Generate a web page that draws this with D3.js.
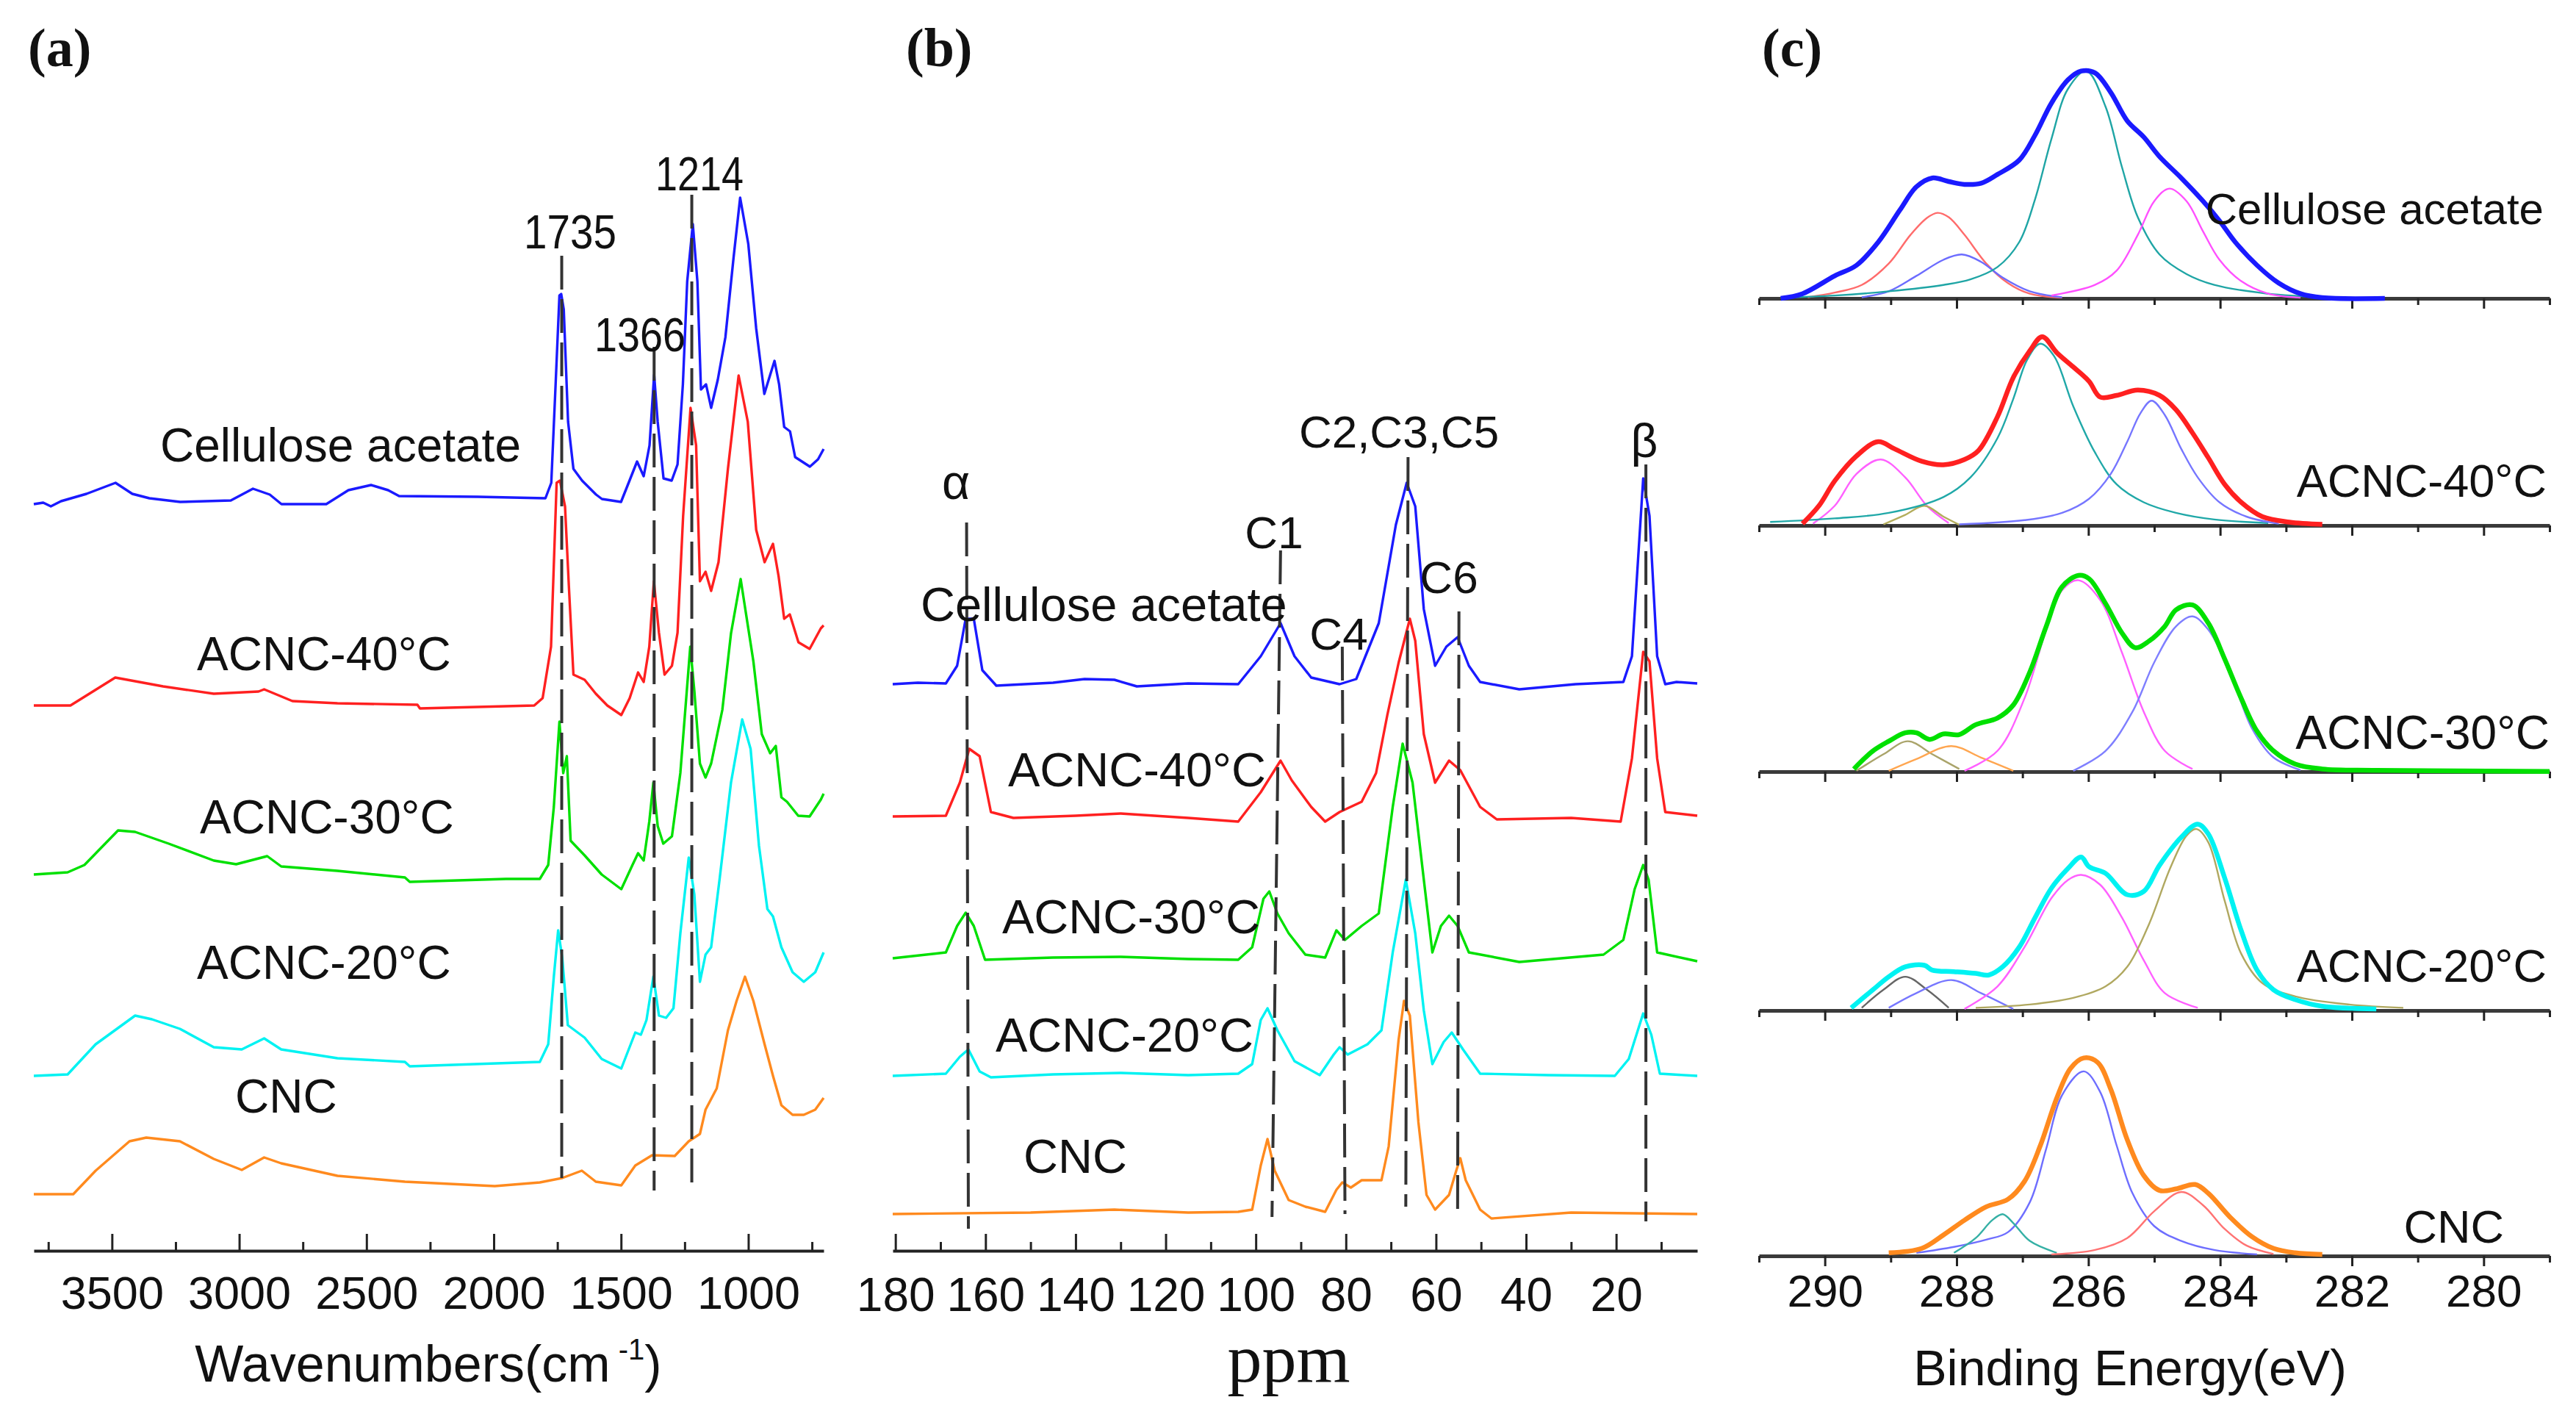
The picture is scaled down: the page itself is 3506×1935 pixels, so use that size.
<!DOCTYPE html>
<html><head><meta charset="utf-8">
<script src="https://cdn.jsdelivr.net/npm/d3@7/dist/d3.min.js"></script>
<style>body{margin:0;background:#fff}</style>
</head><body>
<svg id="chart" width="3506" height="1935" xmlns="http://www.w3.org/2000/svg"></svg>
<script>
// ---------------- DATA ----------------
const seriesNames = ["Cellulose acetate", "ACNC-40°C", "ACNC-30°C", "ACNC-20°C", "CNC"];

// (a) FTIR: [wavenumber cm-1, stacked intensity]
const ftirCA = [[3807,101.6],[3770,101.8],[3740,101.3],[3700,102.0],[3600,103.0],[3486,104.5],[3420,103.0],[3353,102.4],[3232,101.9],[3033,102.1],[2946,103.7],[2880,102.9],[2834,101.6],[2658,101.6],[2571,103.5],[2482,104.2],[2415,103.5],[2372,102.7],[2063,102.6],[1797,102.4],[1774,104.5],[1757,117.9],[1742,130.0],[1735,130.2],[1725,128.1],[1708,112.8],[1687,106.4],[1653,104.8],[1598,102.9],[1575,102.3],[1500,101.9],[1477,103.9],[1437,107.4],[1411,105.4],[1388,109.6],[1370,119.2],[1356,112.8],[1333,105.1],[1301,104.8],[1278,107.0],[1257,117.9],[1240,131.9],[1218,139.7],[1200,131.9],[1186,117.2],[1166,117.9],[1146,114.7],[1120,118.5],[1090,124.3],[1058,135.1],[1032,143.3],[1000,137.0],[969,125.5],[937,116.6],[914,119.2],[897,121.1],[879,117.9],[859,112.1],[836,111.5],[816,108.0],[758,106.7],[726,107.7],[704,109.1]];
const ftirA40 = [[3807,74.2],[3663,74.2],[3487,78.0],[3299,76.8],[3100,75.8],[2924,76.1],[2902,76.4],[2791,74.8],[2614,74.5],[2300,74.3],[2290,73.8],[1841,74.2],[1808,75.2],[1775,82.2],[1753,104.5],[1740,104.8],[1720,101.3],[1705,90.5],[1687,78.4],[1643,77.7],[1599,75.8],[1554,74.2],[1499,72.9],[1466,75.2],[1433,78.7],[1411,77.4],[1389,82.2],[1371,91.1],[1351,84.1],[1329,78.4],[1300,79.6],[1278,84.1],[1256,100.0],[1227,114.7],[1205,109.6],[1190,91.1],[1168,92.4],[1146,89.8],[1117,93.7],[1080,106.4],[1038,119.1],[1002,112.8],[969,98.1],[936,93.7],[903,96.2],[881,91.8],[859,86.0],[837,86.6],[803,82.8],[759,81.9],[715,84.7],[704,85.1]];
const ftirA30 = [[3807,51.2],[3674,51.5],[3608,52.5],[3476,57.2],[3409,57.0],[3277,55.4],[3100,53.1],[3012,52.6],[2890,53.7],[2835,52.3],[2614,51.7],[2349,50.8],[2330,50.2],[1952,50.6],[1819,50.6],[1786,52.5],[1764,60.4],[1742,72.0],[1727,65.0],[1713,67.3],[1698,55.8],[1643,53.8],[1576,51.2],[1499,49.2],[1455,52.5],[1433,54.1],[1411,53.1],[1389,58.4],[1373,63.7],[1356,57.8],[1334,55.4],[1300,56.4],[1267,65.0],[1228,82.2],[1212,76.2],[1190,66.3],[1168,64.4],[1146,66.3],[1102,73.6],[1068,84.0],[1030,91.4],[980,80.2],[947,70.3],[914,67.7],[892,68.7],[870,61.7],[848,61.1],[804,59.2],[759,59.1],[715,61.4],[704,62.2]];
const ftirA20 = [[3807,23.8],[3674,24.0],[3564,28.1],[3409,32.0],[3343,31.5],[3233,30.2],[3100,27.7],[2990,27.4],[2902,28.9],[2835,27.4],[2614,26.2],[2349,25.7],[2330,25.1],[1819,25.7],[1786,28.1],[1764,37.3],[1747,43.6],[1731,39.9],[1709,30.7],[1643,29.0],[1576,26.1],[1499,24.8],[1444,29.7],[1422,29.4],[1400,31.4],[1373,37.3],[1351,32.0],[1323,31.7],[1294,33.0],[1267,43.2],[1234,53.5],[1212,48.5],[1190,36.6],[1168,40.3],[1146,41.3],[1113,50.5],[1068,63.7],[1024,72.3],[991,68.3],[958,55.1],[925,46.5],[903,45.5],[870,41.3],[826,37.9],[782,36.6],[737,37.9],[704,40.6]];
const ftirCNC = [[3807,7.7],[3652,7.7],[3564,10.9],[3431,14.9],[3365,15.4],[3233,14.9],[3100,12.5],[2990,11.0],[2902,12.7],[2835,11.9],[2614,10.2],[2349,9.4],[1996,8.8],[1819,9.3],[1731,9.9],[1654,10.9],[1599,9.4],[1499,8.9],[1444,11.6],[1378,13.0],[1289,12.9],[1234,14.9],[1190,15.9],[1168,19.2],[1124,22.1],[1080,30.0],[1046,34.0],[1013,37.3],[980,34.0],[936,28.1],[903,23.8],[870,19.8],[826,18.5],[782,18.5],[737,19.2],[704,20.8]];
const ftirTicks = [3500, 3000, 2500, 2000, 1500, 1000];
const ftirMinorTicks = [3750, 3250, 2750, 2250, 1750, 1250, 750];
const ftirMarkers = [
  {label: "1735", w: 1733, top: 135.4, bottom: 9.9},
  {label: "1366", w: 1370, top: 123.0, bottom: 8.2},
  {label: "1214", w: 1222, top: 143.7, bottom: 9.1}
];

// (b) 13C NMR: [ppm, stacked intensity]
const nmrCA = [[180.6,77.1],[175,77.3],[168.8,77.2],[166.3,79.6],[164.4,86.0],[162.6,86.0],[160.7,79.0],[157.6,76.9],[145,77.3],[138,77.8],[131.4,77.7],[126.4,76.8],[115,77.2],[103.9,77.1],[98.9,80.9],[94.5,85.4],[91.4,80.9],[87.7,78.0],[81.4,77.1],[77.7,77.8],[72.7,85.4],[68.9,98.8],[66.5,104.5],[64.6,101.3],[62.7,87.3],[60.2,79.6],[57.7,82.2],[55.2,83.5],[52.7,79.6],[50.2,77.4],[41.5,76.4],[29.0,77.1],[18.4,77.4],[16.5,80.9],[14.0,105.1],[12.6,100.0],[10.9,80.9],[9.1,77.1],[6.6,77.4],[2,77.2]];
const nmrA40 = [[180.6,59.1],[168.8,59.2],[165.7,63.7],[163.6,68.3],[161.3,67.3],[158.8,59.7],[153.8,58.9],[140,59.2],[130,59.5],[115,58.9],[103.9,58.4],[98.9,62.4],[94.5,66.7],[92.0,64.0],[87.7,60.4],[84.6,58.4],[81.4,59.7],[76.5,61.1],[73.3,65.0],[70.8,72.9],[68.3,80.0],[65.8,86.0],[64.6,83.0],[62.7,70.3],[60.2,63.7],[57.1,66.7],[54.6,65.4],[50.2,60.4],[46.5,58.7],[30,58.9],[19.0,58.4],[16.5,67.0],[14.0,81.5],[12.6,80.2],[10.9,67.0],[9.1,59.7],[2,59.2]];
const nmrA30 = [[180.6,39.8],[168.8,40.6],[166.3,44.2],[164.4,46.0],[162.6,44.2],[160.1,39.6],[145,39.9],[130,40.0],[115,39.7],[103.9,39.6],[100.8,41.3],[98.3,47.9],[97.0,48.9],[95.2,45.9],[92.7,43.2],[89.0,40.3],[84.6,39.9],[82.1,43.6],[80.2,42.3],[76.5,44.2],[72.7,45.9],[69.6,60.4],[67.4,69.0],[65.2,63.7],[62.7,50.5],[60.8,40.6],[58.9,44.2],[57.1,45.6],[55.2,44.2],[52.7,40.6],[41.5,39.3],[22.8,40.3],[18.4,42.3],[15.9,49.2],[14.0,52.5],[12.8,50.5],[10.9,40.6],[2,39.4]];
const nmrA20 = [[180.6,23.8],[168.8,24.1],[165.7,26.4],[163.8,27.4],[161.3,24.4],[158.8,23.6],[145,24.0],[130,24.2],[115,23.9],[103.9,24.1],[100.8,25.4],[98.9,31.4],[97.4,33.0],[95.2,30.0],[91.4,25.8],[85.8,23.9],[82.7,26.7],[81.4,27.7],[79.6,26.7],[75.2,28.1],[72.1,30.0],[69.6,40.6],[66.7,50.5],[64.6,43.2],[62.7,32.7],[60.8,25.4],[58.3,28.4],[56.5,29.7],[54.0,27.4],[50.2,24.1],[35,23.9],[20.3,23.8],[17.2,26.1],[14.0,32.3],[12.2,29.4],[10.3,24.1],[2,23.8]];
const nmrCNC = [[180.6,5.0],[150,5.2],[131.4,5.6],[115,5.2],[103.9,5.3],[100.8,5.6],[98.9,11.6],[97.4,15.2],[95.8,10.9],[92.7,6.9],[89.0,6.0],[84.6,5.3],[82.1,8.3],[80.8,9.3],[78.9,8.6],[76.5,9.6],[72.1,9.6],[70.5,14.2],[68.3,28.7],[67.1,34.0],[65.8,32.0],[63.9,17.5],[62.1,7.6],[60.2,5.6],[57.1,7.6],[55.5,10.9],[54.6,12.6],[53.4,9.6],[50.2,5.6],[47.7,4.4],[30,5.2],[2,5.0]];
const nmrTicks = [180, 160, 140, 120, 100, 80, 60, 40, 20];
const nmrMinorTicks = [170, 150, 130, 110, 90, 70, 50, 30, 10];
const nmrMarkers = [
  {label: "α", top: 164.2, bottom: 163.8, uTop: 99.1, uBot: 3.0},
  {label: "C1", top: 94.5, bottom: 96.4, uTop: 95.3, uBot: 4.6},
  {label: "C4", top: 80.8, bottom: 80.2, uTop: 82.2, uBot: 5.0},
  {label: "C2,C3,C5", top: 66.2, bottom: 66.7, uTop: 108.0, uBot: 6.0},
  {label: "C6", top: 54.9, bottom: 55.2, uTop: 87.0, uBot: 4.5},
  {label: "β", top: 13.4, bottom: 13.4, uTop: 107.0, uBot: 4.0}
];

// (c) XPS C1s: [binding energy eV, intensity] envelopes and fitted components
const xpsCA = [[290.67,0],[290.34,2.1],[289.85,10.2],[289.52,15.0],[289.19,25.5],[288.86,40.1],[288.61,50.6],[288.37,54.6],[288.12,53.0],[287.88,51.7],[287.63,52.2],[287.38,56.2],[287.05,62.7],[286.81,74.0],[286.56,88.6],[286.31,99.1],[286.11,103.1],[285.90,102.3],[285.66,93.4],[285.41,80.5],[285.16,73.2],[284.92,64.3],[284.59,54.6],[284.26,44.1],[284.01,35.2],[283.77,25.5],[283.44,15.0],[283.11,6.9],[282.78,2.1],[282.45,0.3],[281.5,0]];
const xpsCA_red = [[290.26,0.5],[289.85,2.6],[289.44,6.1],[289.03,15.8],[288.70,28.8],[288.45,36.5],[288.29,38.8],[288.12,36.8],[287.88,28.8],[287.55,15.8],[287.22,6.9],[286.89,2.1],[286.40,0.3]];
const xpsCA_blue = [[289.44,0.5],[289.03,3.2],[288.61,10.2],[288.20,17.5],[287.92,19.9],[287.63,16.6],[287.30,9.4],[286.89,3.2],[286.40,0.5]];
const xpsCA_teal = [[290.67,0.3],[289.85,1.3],[289.03,3.2],[288.20,6.1],[287.79,8.6],[287.38,14.2],[287.05,25.5],[286.81,44.9],[286.56,72.4],[286.31,95.0],[286.03,103.1],[285.74,87.0],[285.49,59.5],[285.25,36.8],[284.92,19.9],[284.51,11.0],[284.09,6.1],[283.27,2.1],[282.45,0.6]];
const xpsCA_magenta = [[286.56,1.3],[285.90,6.1],[285.57,12.6],[285.25,28.8],[285.00,44.1],[284.77,49.8],[284.51,44.1],[284.26,30.4],[284.01,17.5],[283.68,7.8],[283.27,2.1],[282.78,0.3]];

const xpsA40 = [[290.34,0.8],[290.09,8.9],[289.85,20.2],[289.52,31.5],[289.19,38.0],[288.94,34.7],[288.53,29.1],[288.20,27.5],[287.88,29.9],[287.67,33.9],[287.38,49.3],[287.14,67.1],[286.89,79.2],[286.70,85.6],[286.48,78.4],[286.23,71.9],[285.99,65.4],[285.82,58.2],[285.57,59.0],[285.25,61.4],[284.92,59.0],[284.67,52.5],[284.42,42.0],[284.18,30.7],[283.93,18.6],[283.68,10.5],[283.36,4.0],[282.95,1.5],[282.45,0.5]];
const xpsA40_magenta = [[290.18,0.8],[289.85,8.9],[289.52,23.4],[289.15,29.9],[288.78,21.8],[288.45,8.9],[288.12,1.1]];
const xpsA40_olive = [[289.11,0.5],[288.78,4.8],[288.49,8.9],[288.20,4.0],[287.96,0.3]];
const xpsA40_teal = [[290.83,1.6],[289.85,3.2],[289.03,5.7],[288.20,12.9],[287.79,21.8],[287.38,39.6],[287.14,57.4],[286.93,75.1],[286.73,82.4],[286.52,76.8],[286.23,54.1],[285.90,33.1],[285.57,18.6],[285.16,10.5],[284.67,5.7],[284.09,2.7],[283.27,1.1]];
const xpsA40_blue = [[287.96,0.5],[286.97,2.4],[286.40,5.7],[285.99,12.1],[285.66,23.4],[285.41,38.0],[285.21,50.9],[285.04,56.6],[284.84,50.1],[284.59,34.7],[284.34,21.8],[284.01,10.5],[283.60,4.0],[283.11,0.8]];

const xpsA30 = [[289.56,1.2],[289.27,9.4],[289.03,13.8],[288.78,17.6],[288.61,17.6],[288.41,14.6],[288.20,17.1],[287.96,16.8],[287.71,21.3],[287.38,24.3],[287.14,30.2],[286.89,45.1],[286.64,65.9],[286.40,83.8],[286.15,89.0],[285.99,87.5],[285.74,76.3],[285.49,62.9],[285.29,56.2],[285.08,59.2],[284.84,65.9],[284.67,73.4],[284.42,75.6],[284.18,67.4],[283.93,51.0],[283.68,33.2],[283.44,18.3],[283.19,9.4],[282.86,3.4],[282.45,1.2],[281.63,0.6],[279.0,0.1]];
const xpsA30_olive = [[289.52,0.4],[289.11,7.9],[288.74,13.8],[288.37,7.9],[287.96,1.2]];
const xpsA30_orange = [[289.03,0.4],[288.61,5.7],[288.08,11.6],[287.63,6.4],[287.14,0.4]];
const xpsA30_magenta = [[287.88,0.4],[287.38,9.4],[286.97,33.2],[286.64,64.4],[286.40,82.3],[286.15,86.8],[285.82,77.8],[285.49,54.0],[285.16,27.2],[284.84,9.4],[284.42,1.2]];
const xpsA30_blue = [[286.23,0.4],[285.74,9.4],[285.33,27.2],[285.00,49.6],[284.67,65.9],[284.42,70.4],[284.18,64.4],[283.85,45.1],[283.52,19.8],[283.19,6.4],[282.78,0.7]];

const xpsA20 = [[289.60,1.2],[289.27,9.4],[289.03,15.3],[288.78,19.8],[288.49,20.5],[288.37,18.3],[288.04,17.6],[287.71,16.8],[287.51,16.1],[287.30,19.8],[287.05,28.7],[286.81,42.1],[286.56,55.5],[286.31,64.4],[286.11,69.6],[285.99,65.2],[285.74,62.2],[285.41,52.5],[285.16,54.0],[284.92,65.9],[284.59,78.6],[284.34,84.5],[284.18,80.1],[283.93,60.0],[283.68,36.2],[283.44,18.3],[283.19,9.4],[282.86,4.9],[282.45,1.9],[281.63,0.7]];
const xpsA20_grey = [[289.44,1.2],[289.11,9.4],[288.78,15.3],[288.45,9.4],[288.12,1.2]];
const xpsA20_blue = [[289.03,1.2],[288.61,7.9],[288.08,13.8],[287.63,7.9],[287.14,0.7]];
const xpsA20_magenta = [[287.88,0.7],[287.38,10.9],[286.97,28.7],[286.56,51.0],[286.31,59.2],[286.11,61.5],[285.82,57.0],[285.49,42.1],[285.16,22.8],[284.84,7.9],[284.34,1.2]];
const xpsA20_olive = [[287.71,1.2],[286.89,2.7],[286.23,5.7],[285.74,10.9],[285.41,19.8],[285.08,39.1],[284.76,64.4],[284.51,79.3],[284.36,82.3],[284.18,76.3],[283.93,49.6],[283.68,25.7],[283.36,12.4],[282.86,6.4],[282.04,2.7],[281.22,1.2]];

const xpsCNC = [[289.03,1.4],[288.53,3.4],[288.20,9.5],[287.88,16.2],[287.55,22.3],[287.22,25.7],[286.97,33.8],[286.73,50.0],[286.48,71.6],[286.27,85.1],[286.07,89.8],[285.86,87.8],[285.66,75.6],[285.41,52.7],[285.16,36.5],[284.92,29.7],[284.67,30.4],[284.38,32.4],[284.18,28.4],[283.85,17.6],[283.52,8.8],[283.19,3.4],[282.86,1.4],[282.45,0.7]];
const xpsCNC_blue = [[288.61,1.4],[288.04,4.1],[287.55,7.4],[287.22,10.8],[286.89,24.3],[286.64,48.6],[286.40,72.9],[286.07,83.7],[285.82,74.3],[285.57,50.0],[285.33,28.4],[285.00,13.5],[284.59,6.8],[284.09,2.7],[283.44,0.7]];
const xpsCNC_teal = [[288.04,1.4],[287.71,8.1],[287.46,16.2],[287.30,18.9],[287.14,14.9],[286.89,6.8],[286.48,1.4]];
const xpsCNC_red = [[286.56,0.7],[285.90,2.7],[285.41,8.1],[285.00,20.3],[284.59,29.0],[284.26,23.0],[283.93,12.2],[283.60,4.7],[283.19,0.9]];

const xpsTicks = [290, 288, 286, 284, 282, 280];
const xpsMinorTicks = [291, 289, 287, 285, 283, 281, 279];

// ---------------- DRAWING ----------------
const W = 3506, H = 1935;
const SANS = "'Liberation Sans', Arial, Helvetica, sans-serif";
const SERIF = "'Liberation Serif', 'Times New Roman', serif";
const svg = d3.select("#chart");
svg.append("rect").attr("width", W).attr("height", H).attr("fill", "#fff");

const colors = ["#1a1aff", "#ff2020", "#00e000", "#00f2f2", "#ff8a1e"];

function styleAxis(g, fontSize) {
  g.attr("font-family", SANS).attr("font-size", fontSize);
  g.selectAll(".domain").attr("stroke", "#222").attr("stroke-width", 4);
  g.selectAll(".tick line").attr("stroke", "#222").attr("stroke-width", 3);
  g.selectAll(".tick text").attr("fill", "#111");
}

function addText(x, y, str, opts = {}) {
  const t = svg.append("text").attr("x", x).attr("y", y)
    .attr("font-family", opts.family || SANS)
    .attr("font-size", opts.size || 64)
    .attr("font-weight", opts.weight || "normal")
    .attr("text-anchor", opts.anchor || "start")
    .attr("fill", opts.fill || "#111")
    .text(str);
  if (opts.len) t.attr("textLength", opts.len).attr("lengthAdjust", "spacingAndGlyphs");
  return t;
}

// ===== Panel (a) =====
const xA = d3.scaleLinear().domain([3807, 704]).range([46, 1121]);
const yA = d3.scaleLinear().domain([0, 150]).range([1702, 202]);
const lineA = d3.line().x(d => xA(d[0])).y(d => yA(d[1]));
const ftirAll = [ftirCA, ftirA40, ftirA30, ftirA20, ftirCNC];
const gA = svg.append("g");
ftirAll.slice().reverse().forEach((s, i) => {
  gA.append("path").attr("d", lineA(s)).attr("fill", "none")
    .attr("stroke", colors[4 - i]).attr("stroke-width", 3.4).attr("stroke-linejoin", "round");
});
ftirMarkers.forEach(m => {
  gA.append("line").attr("x1", xA(m.w)).attr("x2", xA(m.w))
    .attr("y1", yA(m.top)).attr("y2", yA(m.bottom))
    .attr("stroke", "#333").attr("stroke-width", 4).attr("stroke-dasharray", "46,13");
});
const axA = svg.append("g").attr("transform", "translate(0,1702)")
  .call(d3.axisBottom(xA).tickValues(ftirTicks).tickSize(-23).tickSizeOuter(0).tickPadding(34).tickFormat(d3.format("d")));
styleAxis(axA, 63);
const axAm = svg.append("g").attr("transform", "translate(0,1702)")
  .call(d3.axisBottom(xA).tickValues(ftirMinorTicks).tickSize(-12).tickSizeOuter(0).tickFormat(""));
styleAxis(axAm, 63); axAm.select(".domain").remove();

addText(218, 628, seriesNames[0], {size: 64});
addText(268, 912, seriesNames[1], {size: 64});
addText(272, 1134, seriesNames[2], {size: 64});
addText(268, 1332, seriesNames[3], {size: 64});
addText(320, 1514, seriesNames[4], {size: 64});
addText(776, 338, ftirMarkers[0].label, {size: 64, anchor: "middle", len: 126});
addText(871, 478, ftirMarkers[1].label, {size: 64, anchor: "middle", len: 124});
addText(952, 259, ftirMarkers[2].label, {size: 64, anchor: "middle", len: 120});
const ttlA = svg.append("text").attr("x", 583).attr("y", 1880).attr("text-anchor", "middle")
  .attr("font-family", SANS).attr("font-size", 70).attr("fill", "#111");
ttlA.append("tspan").text("Wavenumbers(cm");
ttlA.append("tspan").attr("font-size", 40).attr("dy", -30).text(" -1");
ttlA.append("tspan").attr("dy", 30).text(")");
addText(38, 90, "(a)", {family: SERIF, size: 74, weight: "bold"});

// ===== Panel (b) =====
const xB = d3.scaleLinear().domain([180.6, 2]).range([1215, 2310]);
const yB = d3.scaleLinear().domain([0, 150]).range([1702, 202]);
const lineB = d3.line().x(d => xB(d[0])).y(d => yB(d[1]));
const nmrAll = [nmrCA, nmrA40, nmrA30, nmrA20, nmrCNC];
const gB = svg.append("g");
nmrAll.slice().reverse().forEach((s, i) => {
  gB.append("path").attr("d", lineB(s)).attr("fill", "none")
    .attr("stroke", colors[4 - i]).attr("stroke-width", 3.4).attr("stroke-linejoin", "round");
});
nmrMarkers.forEach(m => {
  gB.append("line").attr("x1", xB(m.top)).attr("x2", xB(m.bottom))
    .attr("y1", yB(m.uTop)).attr("y2", yB(m.uBot))
    .attr("stroke", "#333").attr("stroke-width", 4).attr("stroke-dasharray", "46,13");
});
const axB = svg.append("g").attr("transform", "translate(0,1702)")
  .call(d3.axisBottom(xB).tickValues(nmrTicks).tickSize(-23).tickSizeOuter(0).tickPadding(37).tickFormat(d3.format("d")));
styleAxis(axB, 64);
const axBm = svg.append("g").attr("transform", "translate(0,1702)")
  .call(d3.axisBottom(xB).tickValues(nmrMinorTicks).tickSize(-12).tickSizeOuter(0).tickFormat(""));
styleAxis(axBm, 64); axBm.select(".domain").remove();

addText(1253, 845, seriesNames[0], {size: 65});
addText(1372, 1070, seriesNames[1], {size: 65});
addText(1364, 1270, seriesNames[2], {size: 65});
addText(1355, 1431, seriesNames[3], {size: 65});
addText(1393, 1596, seriesNames[4], {size: 65});
addText(1301, 679, nmrMarkers[0].label, {size: 66, anchor: "middle"});
addText(1734, 746, nmrMarkers[1].label, {size: 62, anchor: "middle"});
addText(1822, 884, nmrMarkers[2].label, {size: 62, anchor: "middle"});
addText(1904, 609, nmrMarkers[3].label, {size: 62, anchor: "middle"});
addText(1972, 807, nmrMarkers[4].label, {size: 62, anchor: "middle"});
addText(2238, 622, nmrMarkers[5].label, {size: 64, anchor: "middle"});
addText(1754, 1880, "ppm", {family: SERIF, size: 94, anchor: "middle"});
addText(1233, 90, "(b)", {family: SERIF, size: 74, weight: "bold"});

// ===== Panel (c) =====
const xC = d3.scaleLinear().domain([291, 279]).range([2394, 3470]);
const xpsBaselines = [406, 715, 1050, 1375, 1709];
const xpsEnvelopes = [xpsCA, xpsA40, xpsA30, xpsA20, xpsCNC];
const xpsComponents = [
  [[xpsCA_red, "#ff6b6b"], [xpsCA_blue, "#6c6cff"], [xpsCA_teal, "#1fa5a5"], [xpsCA_magenta, "#ff50ff"]],
  [[xpsA40_magenta, "#ff60ff"], [xpsA40_olive, "#b3ad5c"], [xpsA40_teal, "#20a8a8"], [xpsA40_blue, "#7676ff"]],
  [[xpsA30_olive, "#aaa46a"], [xpsA30_orange, "#ffa650"], [xpsA30_magenta, "#ff60ff"], [xpsA30_blue, "#7f7fff"]],
  [[xpsA20_grey, "#666666"], [xpsA20_blue, "#7777ff"], [xpsA20_magenta, "#ff60ff"], [xpsA20_olive, "#b0a860"]],
  [[xpsCNC_blue, "#6e6eff"], [xpsCNC_teal, "#35b0a5"], [xpsCNC_red, "#ff7373"]]
];
// [x end, baseline, font size]
const xpsLabelPos = [[3462, 305, 60], [3466, 676, 63], [3470, 1019, 64], [3466, 1336, 63], [3408, 1691, 63]];

xpsBaselines.forEach((base, i) => {
  const yC = d3.scaleLinear().domain([0, 100]).range([base, base - 300]);
  const lineC = d3.line().x(d => xC(d[0])).y(d => yC(d[1])).curve(d3.curveCatmullRom.alpha(0.5));
  const isBottom = i === xpsBaselines.length - 1;
  const ax = svg.append("g").attr("transform", `translate(0,${base})`)
    .call(d3.axisBottom(xC).tickValues(xpsTicks).tickSize(14).tickSizeOuter(0).tickPadding(11)
      .tickFormat(isBottom ? d3.format("d") : ""));
  styleAxis(ax, 62);
  ax.select(".domain").attr("stroke", "#3a3a3a").attr("stroke-width", 5);
  const axm = svg.append("g").attr("transform", `translate(0,${base})`)
    .call(d3.axisBottom(xC).tickValues(xpsMinorTicks).tickSize(9).tickSizeOuter(0).tickFormat(""));
  styleAxis(axm, 62); axm.select(".domain").remove();
  const g = svg.append("g");
  xpsComponents[i].forEach(([s, c]) => {
    g.append("path").attr("d", lineC(s)).attr("fill", "none").attr("stroke", c).attr("stroke-width", 2.4);
  });
  g.append("path").attr("d", lineC(xpsEnvelopes[i])).attr("fill", "none")
    .attr("stroke", colors[i]).attr("stroke-width", 6.5).attr("stroke-linejoin", "round");
  const p = xpsLabelPos[i];
  addText(p[0], p[1], seriesNames[i], {size: p[2], anchor: "end"});
});
addText(2899, 1885, "Binding Energy(eV)", {size: 68, anchor: "middle"});
addText(2398, 90, "(c)", {family: SERIF, size: 74, weight: "bold"});
</script>
</body></html>
